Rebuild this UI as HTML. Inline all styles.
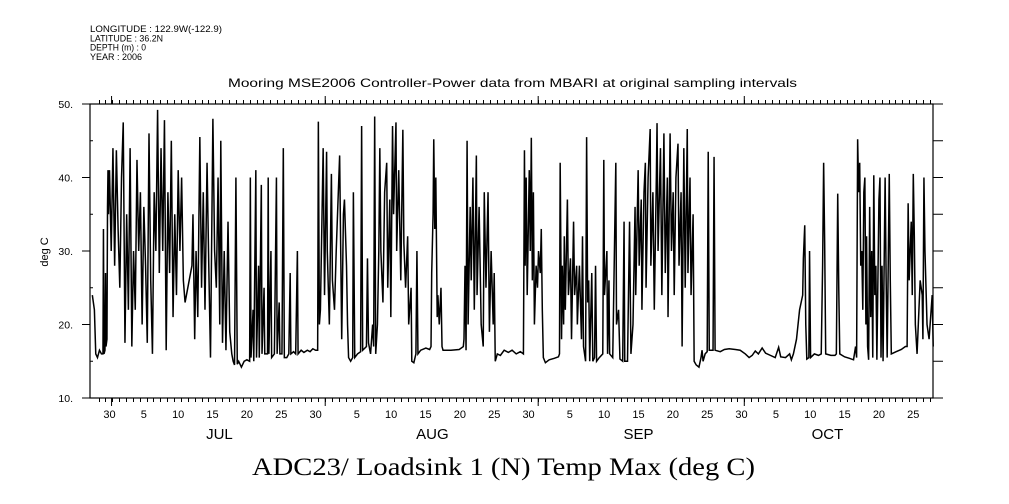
<!DOCTYPE html>
<html><head><meta charset="utf-8"><style>
html,body{margin:0;padding:0;background:#fff;}
svg{display:block;}
text{font-family:"Liberation Sans",sans-serif;fill:#000;}
</style></head><body>
<svg id="chart" width="1009" height="504" viewBox="0 0 1009 504" xmlns="http://www.w3.org/2000/svg">
<rect width="1009" height="504" fill="#fff"/>
<g font-size="9">
<text x="90" y="32" textLength="132" lengthAdjust="spacingAndGlyphs">LONGITUDE : 122.9W(-122.9)</text>
<text x="90" y="41.5" textLength="73" lengthAdjust="spacingAndGlyphs">LATITUDE : 36.2N</text>
<text x="90" y="50.5" textLength="56" lengthAdjust="spacingAndGlyphs">DEPTH (m) : 0</text>
<text x="90" y="60" textLength="52" lengthAdjust="spacingAndGlyphs">YEAR : 2006</text>
</g>
<text x="228" y="87" font-size="12" textLength="569" lengthAdjust="spacingAndGlyphs">Mooring MSE2006 Controller-Power data from MBARI at original sampling intervals</text>
<text transform="translate(48,252) rotate(-90)" text-anchor="middle" font-size="11">deg C</text>
<text x="252" y="475" font-size="25" textLength="503" lengthAdjust="spacingAndGlyphs" style="font-family:'Liberation Serif',serif">ADC23/ Loadsink 1 (N) Temp Max (deg C)</text>
<g id="axes"></g>
<g id="series"></g>
</svg>
<script>
const yTickValues = [10, 20, 30, 40, 50];
const yMinorValues = [15, 25, 35, 45];
const dayTickDays = [0,5,10,15,20,25,30,36,41,46,51,56,61,67,72,77,82,87,92,97,102,107,112,117];
const dayTickLabels = ["30","5","10","15","20","25","30","5","10","15","20","25","30","5","10","15","20","25","30","5","10","15","20","25"];
const monthNames = ["JUL","AUG","SEP","OCT"];
const monthCenterDays = [16, 47, 77, 104.5];
const monthBoundaryDays = [0.3, 31.4, 62.4, 92.4];
const days = [-2.5,-2.2,-2.0,-1.75,-1.46,-1.17,-0.95,-0.88,-0.8,-0.66,-0.58,-0.51,-0.37,-0.29,-0.22,-0.15,
0,0.25,0.5,0.75,1.0,1.25,1.5,1.75,2.0,2.25,2.5,2.75,3.0,3.25,3.5,3.75,4.0,4.25,4.5,4.75,5.0,5.25,5.5,5.75,6.0,6.25,6.5,6.75,7.0,7.25,7.5,7.75,8.0,8.25,8.5,8.75,9.0,9.25,9.5,9.75,10.0,10.25,10.5,10.75,11.0,12.0,12.15,12.4,12.6,12.85,13.15,13.4,13.65,13.9,14.2,14.45,14.7,15.05,15.3,15.55,15.8,16.05,16.2,16.45,16.7,16.95,17.25,17.5,17.8,18.0,18.2,18.4,18.6,
18.8,19.2,19.6,20.0,20.4,20.5,20.6,20.9,21.0,21.3,21.4,21.7,21.8,22.1,22.2,22.5,22.6,23.0,23.1,23.2,23.5,23.6,24.0,24.3,24.4,24.7,24.8,25.1,25.3,25.45,25.8,26.1,26.3,26.4,26.8,27.1,27.35,27.45,27.9,28.3,28.8,29.2,29.6,30.0,30.3,
30.4,30.55,30.7,31.1,31.3,31.6,31.7,32.0,32.3,32.45,32.75,33.0,33.5,33.8,34.05,34.2,34.5,34.65,34.8,35.1,35.4,35.5,35.7,36.1,36.55,36.7,36.85,37.4,37.55,37.7,38.0,38.3,38.45,38.6,38.75,39.0,39.2,39.35,39.5,39.8,40.05,40.35,40.5,40.8,40.95,41.2,41.35,41.7,41.8,42.1,42.4,42.7,42.85,43.1,43.4,43.55,43.9,44.0,44.3,44.6,44.75,44.9,45.3,46.05,46.6,46.8,46.9,47.1,47.2,47.35,47.5,47.7,47.8,48.0,48.25,48.4,48.55,49.7,50.9,51.5,51.6,51.75,51.9,52.05,52.2,52.5,52.65,52.9,53.1,53.4,53.5,53.8,54.1,54.4,54.55,54.8,55.1,55.3,55.55,55.85,56.0,56.15,56.45,56.9,57.45,58.05,58.6,59.2,59.8,60.25,
60.4,60.5,60.65,60.8,61.1,61.25,61.4,61.55,61.7,61.85,62.1,62.3,62.45,62.7,62.85,63.0,63.15,63.45,64.0,64.75,65.35,65.5,65.6,65.8,65.9,66.1,66.2,66.35,66.65,66.8,67.1,67.25,67.55,67.7,68.0,68.1,68.4,68.7,68.85,69.0,69.3,69.45,69.6,69.75,69.9,70.2,70.35,70.6,70.75,70.9,71.3,71.8,71.95,72.05,72.4,72.5,72.7,72.8,73.25,73.7,73.8,74.1,74.3,74.7,74.9,75.0,75.4,75.7,75.9,76.2,76.5,76.6,76.95,77.1,77.4,77.5,77.8,78.0,78.1,78.4,78.7,78.8,79.1,79.3,79.6,79.7,79.85,80.2,80.4,80.7,80.9,81.2,81.3,81.6,81.8,82.05,82.2,82.45,82.75,82.9,83.2,83.35,83.6,83.8,84.1,84.2,84.5,84.65,84.95,85.1,85.4,85.8,86.1,86.25,86.4,86.7,87.0,87.15,87.3,87.85,88.0,88.15,88.9,89.5,90.2,91.1,91.8,92.55,93.1,93.55,94.0,94.45,95.0,95.5,96.2,96.9,97.4,97.7,98.4,99.0,99.25,99.55,100.0,100.45,100.9,101.0,101.2,101.35,101.5,101.8,101.9,102.05,102.6,103.2,103.6,103.8,103.95,104.1,104.25,105.0,105.6,105.8,106.0,106.15,106.3,107.0,107.7,108.3,108.6,108.75,108.9,109.05,109.2,109.35,109.5,109.65,109.8,109.95,110.1,110.2,110.35,110.5,110.65,110.8,110.95,111.1,111.25,111.4,111.55,111.7,112.0,112.15,112.3,112.45,112.6,112.9,113.05,113.2,113.5,113.65,113.8,114.5,115.25,115.85,116.1,116.25,116.4,116.7,116.85,117.0,117.15,117.3,117.55,118.0,118.3,118.4,118.55,118.7,119.0,119.3,119.75,119.9];
const temps = [24,22,16,15.5,16.5,16,16,33,16,16.5,27,17,18,36,41,35,
41,30,44,28,43.7,33,25,40,47.5,17.5,35,22,44,17,30,22,42.4,30,38,20,36,28,17.5,46,26,16,38,30,49.2,27,44,30,47.8,16.5,38,27,45,21,35,24,41,30,40,26,23,28,35,18,30,21,45.5,25,38,22,42,28,15.5,48,30,25,40,20,45,17.5,30,16.5,34,19,16,15,14.5,40,14.6,
15,14.2,15,15.2,15,40,15.5,22,15,41,15.5,28,15.5,39,16,25,16,16,40,16,30,15.5,16,40,16,23,16,16,44,15.5,15.5,16,27,16,16.3,16,30,16,16.5,16.2,16.5,16.3,16.7,16.5,16.5,
47.6,20,22,44,24,43.5,30,20,40.5,26,22,30,43,18,35,37,28,20,15.5,15,15.5,38,15.5,16,16.3,47,16.5,17,29,17.5,16,20,17,48.3,16,20,30,44,30,23,38,42,25,37,21,47,35,47.5,30,41,26,46.5,31,25,32,20,25,15,14.8,16,30,16,16.5,16.8,16.6,17,27,35,45.2,33,40,21,24,20,25,17,16.5,16.5,16.6,17,18,28,16.5,45,20,36,26,40,22,43,24,36,20,17,38,25,38,19,30,20,27,15,16,15.8,16.5,16.2,16.5,16,16.3,16,
43.7,28,40,24,41,30,45.4,26,38,20,28,25,30,27,33,22,15.5,14.8,15.2,15.4,15.6,16,42,18,28,20,32,22,37,24,29,18,34,24,28,20,28,18,32,17,15,45.5,23,26,15,27,15,15.5,28,15,15.5,16,42.4,24,30,16,26,16,15.5,42,20,22,15.3,15,34,15,15,34,16,20,36,24,41,28,37,22,38,42,25,40,46.6,28,38,22,40,47.4,30,44,24,46,27,40,21,46,30,38,24,40,44.6,28,38,17,44,25,46.6,27,40,24,35,15,14.5,14.2,15.5,16.5,15,16,16.3,43.5,16.5,16.5,42.8,16.5,16.3,16.6,16.7,16.6,16.5,16,15.5,15.8,16.4,16,16.8,16.1,15.8,15.5,16.9,15.6,15.5,16,15.2,16,18,22,24,29,33.5,20,15.3,15.5,30,15.5,16,15.8,16,28,42,31,16,15.8,15.8,16,37.8,25,16,15.6,15.4,15.2,17,15.5,45.2,38,42,28,30,22,38,40,20,32,17,15.2,36,21,30,15.5,40.3,24,28,15.2,37,40,15.5,28,15,40,26,15.5,40.5,26,16,16.3,16.6,17,17,36.5,26,34,24,40.5,32,20,16,26,24,18,40,30,20,18,24,17];

const X0 = 109.5, XS = 6.87;
function xScale(d){ return X0 + d * XS; }
function yScale(v){ return 398 - (v - 10) * 7.35; }
const NS = "http://www.w3.org/2000/svg";
const axes = document.getElementById('axes');
const series = document.getElementById('series');
function mk(tag, attrs, parent){
  const e = document.createElementNS(NS, tag);
  for (const k in attrs) e.setAttribute(k, attrs[k]);
  parent.appendChild(e);
  return e;
}
const L = 90, R = 933, T = 104, B = 398;
let fr = mk('rect', {x:L, y:T, width:R-L, height:B-T, fill:'none', stroke:'#000', 'stroke-width':1.2}, axes);


yTickValues.forEach(v => {
  const y = yScale(v);
  let t = mk('line', {x1:L-8, y1:y, x2:L, y2:y, stroke:'#000', 'stroke-width':1}, axes);
  
  
  let t2 = mk('line', {x1:R, y1:y, x2:R+10, y2:y, stroke:'#000', 'stroke-width':1}, axes);
  
  
  let lb = mk('text', {x:73, y:y+4, 'text-anchor':'end', 'font-size':10.5}, axes);
  lb.textContent = v + '.';
  
  
});
yMinorValues.forEach(v => {
  const y = yScale(v);
  let t = mk('line', {x1:L, y1:y, x2:L+3, y2:y, stroke:'#000', 'stroke-width':1}, axes);
  
  
  let t2 = mk('line', {x1:R, y1:y, x2:R+10, y2:y, stroke:'#000', 'stroke-width':1}, axes);
  
  
});
for (let d = -2; d <= 119; d++) {
  const x = Math.round(xScale(d + 0.4)) + 0.5;
  if (x <= L || x >= R) continue;
  let t = mk('line', {x1:x, y1:T-4, x2:x, y2:T, stroke:'#000', 'stroke-width':1}, axes);
  
  
  let b = mk('line', {x1:x, y1:B, x2:x, y2:B+4, stroke:'#000', 'stroke-width':1}, axes);
  
  
}
monthBoundaryDays.forEach(d => {
  const x = xScale(d);
  let t = mk('line', {x1:x, y1:T-8, x2:x, y2:T, stroke:'#000', 'stroke-width':1}, axes);
  
  
  let b = mk('line', {x1:x, y1:B, x2:x, y2:B+8, stroke:'#000', 'stroke-width':1}, axes);
  
  
});
let bx = mk('line', {x1:R, y1:B, x2:R+10, y2:B, stroke:'#000', 'stroke-width':1}, axes);


dayTickDays.forEach((d, i) => {
  let lb = mk('text', {x:xScale(d), y:418, 'text-anchor':'middle', 'font-size':11}, axes);
  lb.textContent = dayTickLabels[i];
  
  
});
monthNames.forEach((m, i) => {
  let lb = mk('text', {x:xScale(monthCenterDays[i]), y:439, 'text-anchor':'middle', 'font-size':15}, axes);
  lb.textContent = m;
  
  
});
let dstr = '';
for (let i = 0; i < days.length; i++) {
  dstr += (i ? 'L' : 'M') + xScale(days[i]).toFixed(2) + ',' + yScale(temps[i]).toFixed(2);
}
let path = mk('path', {d:dstr, fill:'none', stroke:'#000', 'stroke-width':1.5, 'stroke-linejoin':'miter'}, series);


</script>
</body></html>
